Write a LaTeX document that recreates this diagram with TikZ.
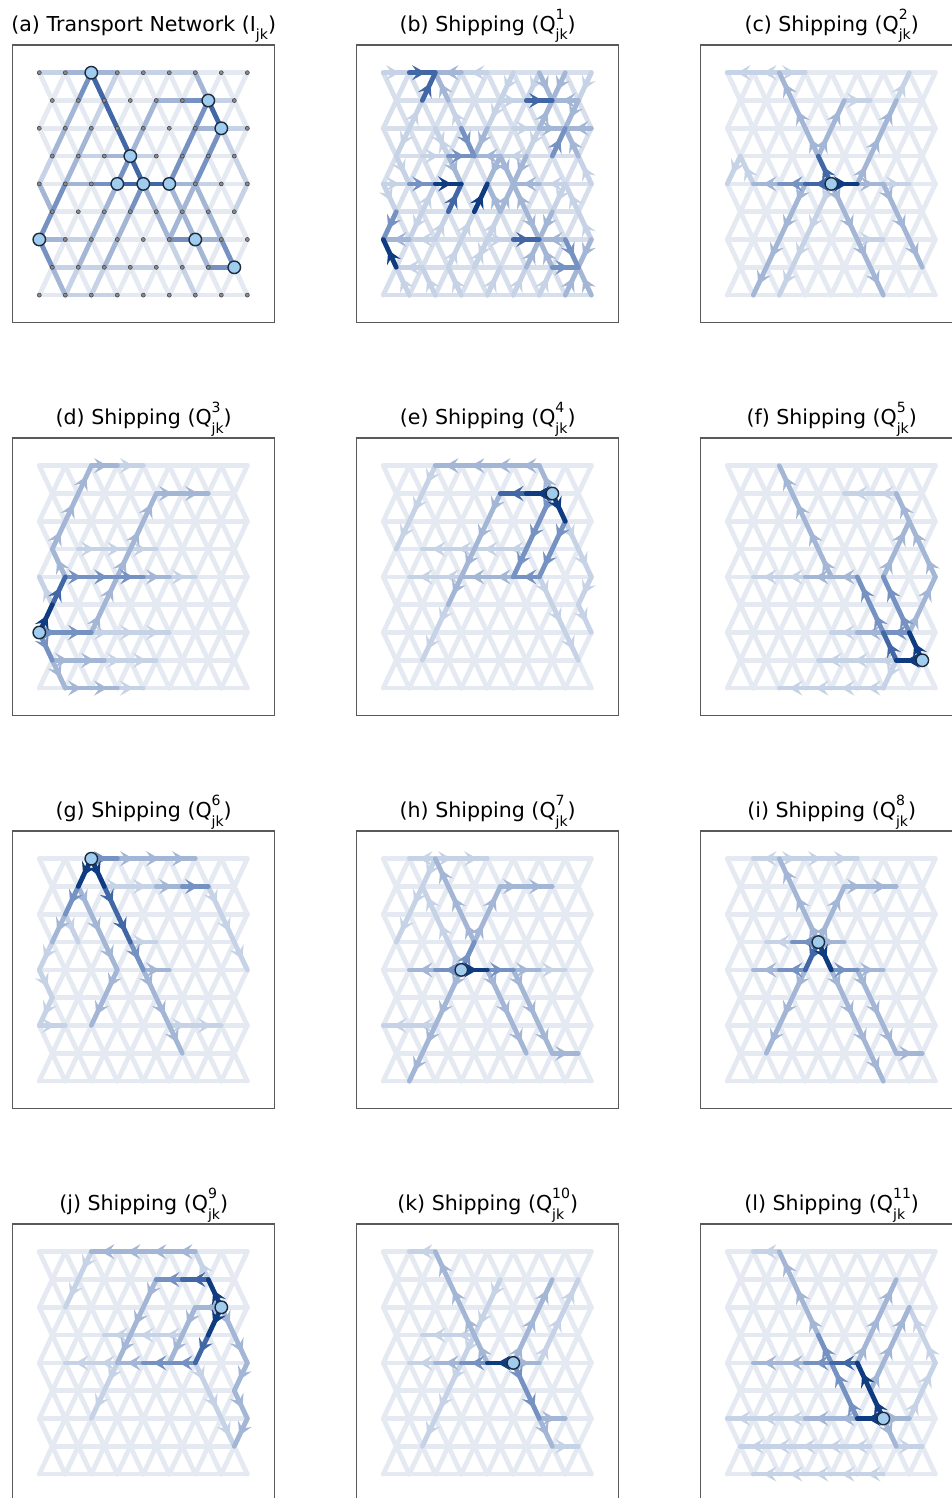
\documentclass[tikz,border=0pt]{standalone}
\usepackage{fontspec}
\setmainfont{DejaVu Sans}
\usetikzlibrary{arrows.meta, decorations.markings}

\definecolor{lv1}{HTML}{E4E9F2}
\definecolor{lvb}{HTML}{D7DFEC}
\definecolor{lv2}{HTML}{C6D2E5}
\definecolor{lv3}{HTML}{A3B6D5}
\definecolor{lv4}{HTML}{7592C2}
\definecolor{lv5}{HTML}{4167A6}
\definecolor{lv6}{HTML}{0F3B80}
\definecolor{cityfill}{HTML}{A0CCEE}
\definecolor{cityline}{HTML}{1C2B40}

\tikzset{
  edgebase/.style={line width=2.7pt, line cap=round},
  net/.style={edgebase, draw=lv#1},
  flow/.style={edgebase, draw=lv#1, postaction={decorate},
    decoration={markings, mark=at position 0.62 with {\arrow[lv#1]{Stealth[length=7.5pt,width=8.5pt,inset=3pt]}}}},
  city/.style={circle, draw=cityline, fill=cityfill, line width=0.8pt, minimum size=0.25cm, inner sep=0pt},
  gdot/.style={circle, draw=black!75, fill=black!45, line width=0.3pt, minimum size=0.08cm, inner sep=0pt},
  frame/.style={draw=black!65, line width=0.7pt},
  ttl/.style={anchor=base, font=\fontsize{11.7}{13}\selectfont}
}

% small sub- and superscripts of the titles
\newcommand\tinyfont{\fontsize{8}{8}\selectfont}
\newcommand\supsub[2]{%
  \sbox0{\tinyfont #1}\sbox2{\tinyfont #2}%
  \rlap{\raisebox{1.0ex}{\usebox0}}\raisebox{-0.8ex}{\usebox2}%
  \ifdim\wd0>\wd2 \hspace{\dimexpr\wd0-\wd2\relax}\fi}
\newcommand\qsub[1]{Q\supsub{#1}{jk}}

% lattice of one panel: named points \pn-c-r and faint edges
\newcommand\lattice[1]{%
  \foreach \ri in {0,...,8}
    \foreach \ci in {0,...,16} {
      \pgfmathtruncatemacro\pty{mod(\ci+\ri,2)}
      \ifnum\pty=0 \coordinate (\pn-\ci-\ri) at ({39.3+13*\ci},{72.7+27.8*\ri}); \fi
    }
  \foreach \ri in {0,...,8}
    \foreach \ci in {0,...,16} {
      \pgfmathtruncatemacro\pty{mod(\ci+\ri,2)}
      \ifnum\pty=0
        \pgfmathtruncatemacro\cR{\ci+2}
        \pgfmathtruncatemacro\cP{\ci+1}
        \pgfmathtruncatemacro\cM{\ci-1}
        \pgfmathtruncatemacro\rD{\ri+1}
        \ifnum\ci<15 \draw[net=#1] (\pn-\ci-\ri) -- (\pn-\cR-\ri); \fi
        \ifnum\ri<8
          \ifnum\ci<16 \draw[net=#1] (\pn-\ci-\ri) -- (\pn-\cP-\rD); \fi
          \ifnum\ci>0 \draw[net=#1] (\pn-\ci-\ri) -- (\pn-\cM-\rD); \fi
        \fi
      \fi
    }
  \draw[frame] (12.7,45) rectangle (274.7,322.7);
}
% flow along a chain of points, undirected net chain, and flows into one point
\newcommand\fl[3]{\foreach \p [remember=\p as \q (initially #2)] in {#3} {\draw[flow=#1] (\pn-\q) -- (\pn-\p);}}
\newcommand\nl[3]{\foreach \p [remember=\p as \q (initially #2)] in {#3} {\draw[net=#1] (\pn-\q) -- (\pn-\p);}}
\newcommand\sink[3]{\foreach \p in {#3} {\draw[flow=#1] (\pn-\p) -- (\pn-#2);}}

\begin{document}
\begin{tikzpicture}[x=0.02cm, y=-0.02cm]
\fill[white] (0,0) rectangle (951,1498);
\useasboundingbox (0,0) rectangle (951,1498);

% (a) transport network
\begin{scope}
  \def\pn{a}
  \node[ttl] (a-title) at (143.7,31) {(a) Transport Network (I\raisebox{-0.8ex}{\tinyfont jk})};
  \lattice{1}
  \nl{2}{0-0}{2-0} \nl{2}{6-0}{8-0,10-0,12-0} \nl{2}{3-3}{5-3} \nl{2}{7-3}{9-3}
  \nl{2}{2-6}{4-6} \nl{2}{1-7}{3-7,5-7,7-7,9-7} \nl{2}{2-8}{4-8,6-8} \nl{2}{12-4}{14-4}
  \nl{2}{13-1}{15-1} \nl{2}{14-2}{16-2} \nl{2}{14-2}{15-3,16-4,15-5} \nl{2}{3-7}{2-8}
  \nl{2}{5-7}{4-8} \nl{2}{10-6}{11-7,12-8} \nl{2}{1-3}{0-4} \nl{2}{4-2}{5-1,6-0}
  \nl{3}{2-0}{4-0,6-0} \nl{3}{3-1}{2-2,1-3} \nl{3}{0-4}{1-5} \nl{3}{0-6}{2-6} \nl{3}{1-7}{2-8}
  \nl{3}{2-4}{4-4} \nl{3}{5-3}{7-3} \nl{3}{9-1}{8-2,7-3} \nl{3}{6-4}{5-5,4-6,3-7}
  \nl{3}{7-5}{6-6,5-7} \nl{3}{8-4}{9-5,10-6} \nl{3}{10-4}{12-4} \nl{3}{9-1}{11-1}
  \nl{3}{12-0}{13-1} \nl{3}{12-2}{14-2} \nl{3}{12-4}{11-5,10-6} \nl{3}{10-4}{11-5,12-6}
  \nl{3}{12-4}{13-5,14-6} \nl{3}{12-6}{14-6} \nl{3}{12-6}{13-7} \nl{3}{2-4}{3-3,4-2}
  \nl{4}{4-0}{3-1} \nl{4}{0-6}{1-5,2-4} \nl{4}{0-6}{1-7} \nl{4}{4-4}{6-4} \nl{4}{7-3}{6-4}
  \nl{4}{8-4}{7-5} \nl{4}{10-4}{11-3,12-2,13-1} \nl{4}{11-1}{13-1} \nl{4}{14-2}{13-3,12-4}
  \nl{4}{14-6}{15-7} \nl{4}{13-7}{15-7} \nl{4}{10-6}{12-6}
  \nl{5}{4-0}{5-1,6-2,7-3,8-4} \nl{5}{6-4}{8-4,10-4} \nl{5}{13-1}{14-2}
  \foreach \ri in {0,...,8}
    \foreach \ci in {0,...,16} {
      \pgfmathtruncatemacro\pty{mod(\ci+\ri,2)}
      \ifnum\pty=0 \node[gdot] (a-dot-\ci-\ri) at (a-\ci-\ri) {}; \fi
    }
  \foreach \p in {4-0,13-1,14-2,7-3,6-4,8-4,10-4,0-6,12-6,15-7}
    \node[city] (a-city-\p) at (a-\p) {};
\end{scope}

% (b) shipping of good 1
\begin{scope}[shift={(344,0)}]
  \def\pn{b}
  \node[ttl] (b-title) at (143.7,31) {(b) Shipping (\qsub{1})};
  \lattice{b}
  \fl{2}{0-0}{2-0} \fl{2}{8-0}{6-0} \fl{2}{6-2}{5-1} \fl{2}{2-2}{3-1} \fl{2}{9-1}{11-1}
  \fl{2}{10-2}{12-2} \fl{2}{16-0}{15-1} \fl{2}{16-4}{15-3} \fl{2}{3-3}{5-3} \fl{2}{11-3}{9-3}
  \fl{2}{10-0}{9-1,8-2} \fl{2}{4-2}{5-3} \fl{2}{6-6}{7-5} \fl{2}{4-6}{5-5} \fl{2}{0-4}{2-4}
  \fl{2}{4-6}{2-6} \fl{2}{3-7}{1-7} \fl{2}{2-8}{1-7} \fl{2}{0-4}{1-5} \fl{2}{14-4}{12-4}
  \fl{2}{8-6}{10-6} \fl{2}{10-8}{11-7} \fl{2}{12-8}{13-7} \fl{2}{14-4}{13-5} \fl{2}{7-7}{8-6,9-5}
  \fl{2}{12-0}{11-1} \fl{2}{5-7}{6-6} \fl{2}{3-5}{4-4} \fl{2}{16-6}{15-5,14-4}
  \fl{2}{1-3}{2-4} \fl{2}{2-2}{1-3} \fl{2}{4-8}{3-7} \fl{2}{6-8}{5-7} \fl{2}{8-8}{9-7}
  \fl{2}{5-3}{4-2} \fl{2}{8-6}{7-7} \fl{2}{3-5}{2-6} \fl{2}{12-2}{11-3}
  \sink{3}{4-0}{6-0,5-1}
  \sink{3}{13-1}{15-1,12-0,14-0,12-2}
  \sink{3}{14-2}{16-2,15-1,15-3,12-2}
  \sink{3}{7-3}{9-3,8-2}
  \sink{3}{6-4}{5-3}
  \sink{3}{8-4}{9-3,9-5}
  \sink{3}{10-4}{12-4,9-3,11-3,9-5,11-5}
  \sink{3}{0-6}{2-6}
  \sink{3}{12-6}{14-6,11-5,13-5,11-7,13-7}
  \sink{3}{15-7}{16-6,14-8,16-8}
  \sink{4}{7-3}{6-2,5-3} \sink{4}{15-7}{14-6} \fl{4}{2-4}{4-4} \fl{4}{1-5}{0-6}
  \fl{4}{13-7}{15-7} \fl{4}{13-3}{14-2}
  \fl{5}{5-5}{6-4} \fl{5}{2-0}{4-0} \fl{5}{3-1}{4-0} \fl{5}{11-1}{13-1} \fl{5}{10-6}{12-6}
  \fl{6}{4-4}{6-4} \fl{6}{7-5}{8-4} \fl{6}{1-7}{0-6}
\end{scope}

% (c) shipping of good 2
\begin{scope}[shift={(688,0)}]
  \def\pn{c}
  \node[ttl] (c-title) at (143.7,31) {(c) Shipping (\qsub{2})};
  \lattice{1}
  \fl{2}{4-0}{2-0,0-0} \fl{2}{4-0}{6-0} \fl{2}{8-4}{7-5,6-6,5-7,4-8} \fl{2}{12-4}{14-4}
  \fl{2}{13-1}{14-0} \fl{2}{2-4}{1-3,0-4} \fl{2}{10-6}{12-6} \fl{2}{9-1}{11-1}
  \fl{3}{7-3}{6-2,5-1,4-0} \fl{3}{7-3}{8-2,9-1} \fl{3}{6-4}{5-5,4-6,3-7,2-8}
  \fl{3}{8-4}{9-5,10-6,11-7,12-8} \fl{3}{10-4}{11-3,12-2,13-1} \fl{3}{12-4}{13-5,14-6,15-7}
  \fl{3}{4-4}{2-4} \fl{3}{10-4}{12-4}
  \fl{4}{6-4}{4-4}
  \fl{5}{8-4}{6-4} \fl{5}{8-4}{7-3}
  \fl{6}{8-4}{10-4}
  \node[city] (c-city) at (c-8-4) {};
\end{scope}

% (d) shipping of good 3
\begin{scope}[shift={(0,393)}]
  \def\pn{d}
  \node[ttl] (d-title) at (143.7,31) {(d) Shipping (\qsub{3})};
  \lattice{1}
  \fl{2}{4-6}{6-6,8-6,10-6} \fl{2}{5-7}{7-7,9-7} \fl{2}{6-8}{8-8} \fl{2}{10-4}{12-4}
  \fl{2}{6-0}{8-0} \fl{2}{1-5}{0-4} \fl{2}{3-3}{5-3,7-3,9-3}
  \fl{3}{2-4}{1-3,2-2,3-1,4-0,6-0} \fl{3}{8-4}{10-4} \fl{3}{1-7}{3-7,5-7}
  \fl{3}{1-7}{2-8,4-8,6-8} \fl{3}{4-6}{5-5,6-4,7-3,8-2,9-1,11-1,13-1}
  \fl{4}{2-4}{4-4,6-4,8-4} \fl{4}{0-6}{2-6,4-6} \fl{4}{0-6}{1-7}
  \fl{5}{1-5}{2-4}
  \fl{6}{0-6}{1-5}
  \node[city] (d-city) at (d-0-6) {};
\end{scope}

% (e) shipping of good 4
\begin{scope}[shift={(344,393)}]
  \def\pn{e}
  \node[ttl] (e-title) at (143.7,31) {(e) Shipping (\qsub{4})};
  \lattice{1}
  \fl{2}{4-4}{2-4} \fl{2}{6-4}{4-4} \fl{2}{4-0}{3-1,2-2,1-3} \fl{2}{14-2}{15-3,16-4,15-5,16-6}
  \fl{2}{12-4}{13-5,14-6,15-7} \fl{2}{11-3}{9-3,7-3,5-3,3-3} \fl{2}{5-5}{4-6,3-7}
  \fl{3}{13-1}{12-0,10-0,8-0,6-0,4-0} \fl{3}{9-1}{8-2,7-3,6-4,5-5} \fl{3}{10-4}{8-4,6-4}
  \fl{4}{14-2}{13-3,12-4,10-4} \fl{4}{13-1}{12-2,11-3,10-4}
  \fl{5}{11-1}{9-1}
  \fl{6}{13-1}{11-1} \fl{6}{13-1}{14-2}
  \node[city] (e-city) at (e-13-1) {};
\end{scope}

% (f) shipping of good 5
\begin{scope}[shift={(688,393)}]
  \def\pn{f}
  \node[ttl] (f-title) at (143.7,31) {(f) Shipping (\qsub{5})};
  \lattice{1}
  \fl{2}{6-4}{4-4,2-4} \fl{2}{13-1}{11-1,9-1} \fl{2}{13-7}{11-7,9-7,7-7}
  \fl{2}{13-7}{12-8,10-8,8-8,6-8,4-8} \fl{2}{10-6}{8-6}
  \fl{3}{10-4}{8-4,6-4} \fl{3}{8-4}{7-3,6-2,5-1,4-0} \fl{3}{12-6}{10-6}
  \fl{3}{12-4}{13-3,14-2,13-1} \fl{3}{14-6}{15-5,16-4,15-3,14-2}
  \fl{4}{14-6}{12-6} \fl{4}{14-6}{13-5,12-4} \fl{4}{12-6}{11-5,10-4}
  \fl{5}{13-7}{12-6}
  \fl{6}{15-7}{13-7} \fl{6}{15-7}{14-6}
  \node[city] (f-city) at (f-15-7) {};
\end{scope}

% (g) shipping of good 6
\begin{scope}[shift={(0,786)}]
  \def\pn{g}
  \node[ttl] (g-title) at (143.7,31) {(g) Shipping (\qsub{6})};
  \lattice{1}
  \fl{2}{5-1}{7-1,9-1} \fl{2}{7-3}{9-3} \fl{2}{1-3}{0-4,1-5,0-6} \fl{2}{0-6}{2-6}
  \fl{2}{13-1}{14-2,15-3,16-4} \fl{2}{10-6}{12-6,14-6} \fl{2}{2-2}{3-3}
  \fl{3}{2-2}{1-3} \fl{3}{6-0}{8-0,10-0,12-0} \fl{3}{9-1}{11-1} \fl{3}{3-1}{4-2,5-3,6-4}
  \fl{3}{8-4}{10-4} \fl{3}{8-4}{9-5,10-6,11-7} \fl{3}{6-4}{5-5,4-6}
  \fl{4}{3-1}{2-2} \fl{4}{4-0}{6-0} \fl{4}{7-3}{8-4} \fl{4}{11-1}{13-1}
  \fl{5}{5-1}{6-2,7-3}
  \fl{6}{4-0}{3-1} \fl{6}{4-0}{5-1}
  \node[city] (g-city) at (g-4-0) {};
\end{scope}

% (h) shipping of good 7
\begin{scope}[shift={(344,786)}]
  \def\pn{h}
  \node[ttl] (h-title) at (143.7,31) {(h) Shipping (\qsub{7})};
  \lattice{1}
  \fl{2}{4-0}{6-0,8-0} \fl{2}{4-0}{2-0} \fl{2}{6-4}{5-3,4-2,3-1} \fl{2}{4-0}{3-1,2-2,1-3}
  \fl{2}{4-6}{2-6,0-6} \fl{2}{12-4}{14-4}
  \fl{3}{7-3}{6-2,5-1,4-0} \fl{3}{7-3}{8-2,9-1,11-1,13-1} \fl{3}{6-4}{5-5,4-6,3-7,2-8}
  \fl{3}{8-4}{9-5,10-6,11-7} \fl{3}{10-4}{11-5,12-6,13-7,15-7} \fl{3}{10-4}{12-4}
  \fl{3}{4-4}{2-4}
  \fl{4}{6-4}{4-4} \fl{4}{6-4}{7-3} \fl{4}{8-4}{10-4}
  \fl{6}{6-4}{8-4}
  \node[city] (h-city) at (h-6-4) {};
\end{scope}

% (i) shipping of good 8
\begin{scope}[shift={(688,786)}]
  \def\pn{i}
  \node[ttl] (i-title) at (143.7,31) {(i) Shipping (\qsub{8})};
  \lattice{1}
  \fl{2}{4-0}{6-0,8-0,10-0} \fl{2}{4-0}{2-0} \fl{2}{5-3}{3-3}
  \fl{3}{7-3}{6-2,5-1,4-0} \fl{3}{7-3}{8-2,9-1,11-1,13-1} \fl{3}{6-4}{5-5,4-6,3-7}
  \fl{3}{8-4}{9-5,10-6,11-7,12-8} \fl{3}{10-4}{11-5,12-6,13-7,15-7} \fl{3}{10-4}{12-4}
  \fl{3}{4-4}{2-4} \fl{3}{7-3}{9-3}
  \fl{4}{8-4}{10-4} \fl{4}{6-4}{4-4} \fl{4}{7-3}{5-3}
  \fl{5}{7-3}{6-4}
  \fl{6}{7-3}{8-4}
  \node[city] (i-city) at (i-7-3) {};
\end{scope}

% (j) shipping of good 9
\begin{scope}[shift={(0,1179)}]
  \def\pn{j}
  \node[ttl] (j-title) at (143.7,31) {(j) Shipping (\qsub{9})};
  \lattice{1}
  \fl{2}{13-1}{12-0} \fl{2}{4-0}{3-1,2-2} \fl{2}{6-4}{4-4,2-4} \fl{2}{12-4}{13-5,14-6,15-7}
  \fl{2}{11-3}{9-3,7-3,5-3} \fl{2}{6-4}{5-5,4-6}
  \fl{3}{12-0}{10-0,8-0,6-0,4-0} \fl{3}{9-1}{8-2,7-3,6-4} \fl{3}{8-4}{6-4}
  \fl{3}{14-2}{12-2,11-3,10-4} \fl{3}{14-2}{15-3,16-4,15-5,16-6,15-7}
  \fl{4}{11-1}{9-1} \fl{4}{12-4}{10-4,8-4}
  \fl{5}{13-1}{11-1} \fl{5}{13-3}{12-4}
  \fl{6}{14-2}{13-1} \fl{6}{14-2}{13-3}
  \node[city] (j-city) at (j-14-2) {};
\end{scope}

% (k) shipping of good 10
\begin{scope}[shift={(344,1179)}]
  \def\pn{k}
  \node[ttl] (k-title) at (143.7,31) {(k) Shipping (\qsub{10})};
  \lattice{1}
  \fl{2}{4-4}{2-4} \fl{2}{9-1}{8-2,7-3,6-4,5-5,4-6,3-7} \fl{2}{4-0}{2-0} \fl{2}{7-3}{5-3,3-3}
  \fl{2}{13-7}{15-7} \fl{2}{12-4}{13-3,14-2,15-1}
  \fl{3}{8-4}{7-3,6-2,5-1,4-0} \fl{3}{6-4}{4-4} \fl{3}{10-4}{12-4}
  \fl{3}{10-4}{11-3,12-2,13-1} \fl{3}{12-6}{13-7} \fl{3}{12-6}{14-6}
  \fl{4}{8-4}{6-4} \fl{4}{10-4}{11-5,12-6}
  \fl{6}{10-4}{8-4}
  \node[city] (k-city) at (k-10-4) {};
\end{scope}

% (l) shipping of good 11
\begin{scope}[shift={(688,1179)}]
  \def\pn{l}
  \node[ttl] (l-title) at (143.7,31) {(l) Shipping (\qsub{11})};
  \lattice{1}
  \fl{2}{4-0}{2-0} \fl{2}{6-6}{4-6,2-6,0-6} \fl{2}{13-7}{15-7}
  \fl{2}{11-7}{9-7,7-7,5-7,3-7,1-7} \fl{2}{12-8}{10-8,8-8,6-8,4-8,2-8}
  \fl{2}{14-6}{15-5,16-4,15-3,14-2}
  \fl{3}{7-3}{6-2,5-1,4-0} \fl{3}{6-4}{4-4,2-4} \fl{3}{10-6}{8-6,6-6} \fl{3}{12-6}{14-6}
  \fl{3}{12-6}{13-7} \fl{3}{12-4}{13-3,14-2} \fl{3}{10-4}{11-3,12-2,13-1} \fl{3}{11-5}{12-4}
  \fl{4}{8-4}{6-4} \fl{4}{10-6}{9-5,8-4,7-3}
  \fl{5}{10-4}{8-4}
  \fl{6}{12-6}{10-6} \fl{6}{12-6}{11-5,10-4}
  \node[city] (l-city) at (l-12-6) {};
\end{scope}
\end{tikzpicture}
\end{document}
